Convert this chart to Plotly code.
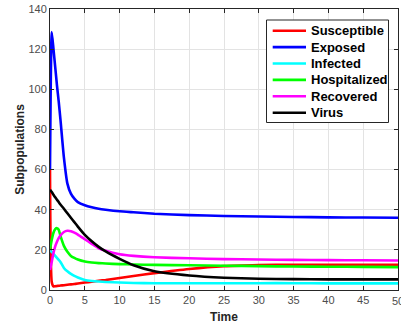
import plotly.graph_objects as go

time = [0, 0.25, 0.5, 0.75, 1, 1.25, 1.5, 2, 2.5, 3, 3.5, 4, 5, 6, 7, 8, 10, 12, 15, 20, 25, 30, 35, 40, 45, 50]

susceptible = [60, 4, 1.8, 1.9, 2.0, 2.1, 2.2, 2.4, 2.6, 2.8, 3.0, 3.2, 3.7, 4.1, 4.6, 5.0, 6.0, 7.0, 8.4, 10.5, 11.9, 12.4, 12.6, 12.6, 12.6, 12.6]
exposed = [60, 128.5, 120, 111, 102, 94, 85, 66, 53, 48, 45.5, 43.8, 42.2, 41.2, 40.5, 40, 39.2, 38.7, 38, 37.3, 36.9, 36.6, 36.4, 36.2, 36.1, 36]
infected = [19.5, 19, 18, 17, 16, 15, 14, 11, 9.3, 8.0, 7.0, 6.2, 5.0, 4.5, 4.2, 4.0, 3.7, 3.5, 3.4, 3.4, 3.4, 3.4, 3.4, 3.3, 3.3, 3.3]
hospitalized = [20, 25, 28.5, 30.3, 30.8, 30, 27, 22, 19, 17, 16, 15.2, 14.2, 13.7, 13.4, 13.2, 12.9, 12.7, 12.5, 12.3, 12.1, 11.9, 11.7, 11.6, 11.5, 11.4]
recovered = [10, 14, 18.5, 21.7, 24, 25.8, 27.2, 28.9, 29.5, 29.3, 28.6, 27.6, 25.3, 23, 20.8, 19.5, 17.8, 17.0, 16.3, 15.8, 15.4, 15.2, 15.0, 14.9, 14.8, 14.7]
virus = [50, 48.8, 47.5, 46.2, 45, 43.8, 42.6, 40.5, 38.2, 36, 33.8, 31.6, 27.5, 24.3, 21.5, 19.2, 15.5, 12.3, 9.3, 7.2, 6.1, 5.6, 5.4, 5.3, 5.3, 5.3]

names = ["Susceptible", "Exposed", "Infected", "Hospitalized", "Recovered", "Virus"]
colors = ["#ff0000", "#0000ff", "#00ffff", "#00ff00", "#ff00ff", "#000000"]
series = [susceptible, exposed, infected, hospitalized, recovered, virus]

x_ticks = list(range(0, 51, 5))
y_ticks = list(range(0, 141, 20))

W, H = 401, 327
ML, MR, MT, MB = 50, 3, 9, 37
PW, PH = W - ML - MR, H - MT - MB

def px_x(x):
    return (x - ML) / PW

def px_y(y):
    return (H - MB - y) / PH

fig = go.Figure()
for name, color, vals in zip(names, colors, series):
    fig.add_trace(go.Scatter(x=time, y=vals, mode="lines", name=name, showlegend=False,
                             line=dict(color=color, width=2.6, shape="spline", smoothing=0.5)))

tick_font = dict(family="Liberation Sans", size=11, color="#4d4d4d")
axis_common = dict(
    showline=True, linecolor="#262626", linewidth=1, mirror="ticks",
    ticks="inside", ticklen=4, tickcolor="#262626",
    showgrid=True, gridcolor="#e3e3e3", gridwidth=1, zeroline=False,
    tickfont=tick_font, automargin=False,
)

# legend box (drawn manually to match MATLAB's compact row spacing)
box_l, box_r, box_t, box_b = 266.5, 388.5, 20, 122.5
row0, row_gap = 30.7, 16.4
shapes = [dict(type="rect", xref="paper", yref="paper",
               x0=px_x(box_l), x1=px_x(box_r), y0=px_y(box_b), y1=px_y(box_t),
               line=dict(color="#262626", width=1), fillcolor="white", layer="above")]
annotations = []
for i, (name, color) in enumerate(zip(names, colors)):
    yc = row0 + i * row_gap
    shapes.append(dict(type="line", xref="paper", yref="paper",
                       x0=px_x(272.7), x1=px_x(306), y0=px_y(yc), y1=px_y(yc),
                       line=dict(color=color, width=2.6), layer="above"))
    annotations.append(dict(xref="paper", yref="paper", x=px_x(309), y=px_y(yc),
                            xanchor="left", yanchor="middle", showarrow=False, text=name,
                            font=dict(family="Liberation Sans", size=13, color="black", weight="bold")))

# last x tick label, cut by the figure edge as in the original
annotations.append(dict(xref="x", yref="paper", x=50, y=0, yanchor="top", xanchor="center",
                        yshift=-3, showarrow=False, text="50", font=tick_font))

fig.update_layout(
    width=W, height=H,
    margin=dict(l=ML, r=MR, t=MT, b=MB),
    paper_bgcolor="white", plot_bgcolor="white",
    font=dict(family="Liberation Sans"),
    xaxis=dict(range=[0, 50], tickvals=x_ticks[:-1], **axis_common,
               title=dict(text="Time", standoff=7,
                          font=dict(family="Liberation Sans", size=12, color="#262626", weight="bold"))),
    yaxis=dict(range=[0, 140], tickvals=y_ticks, **axis_common,
               title=dict(text="Subpopulations", standoff=1,
                          font=dict(family="Liberation Sans", size=12, color="#262626", weight="bold"))),
    shapes=shapes,
    annotations=annotations,
    showlegend=False,
)

fig.write_html("out.html", config={"displayModeBar": False},
               post_script="document.body.style.margin='0px';")
